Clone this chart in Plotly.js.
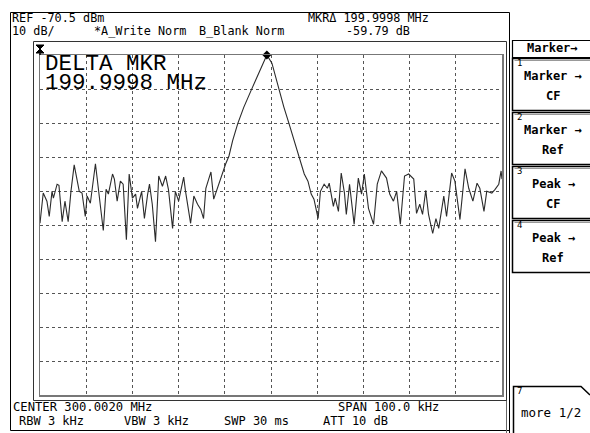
<!DOCTYPE html>
<html>
<head>
<meta charset="utf-8">
<script src="https://cdn.plot.ly/plotly-3.0.1.min.js"></script>
<style>html,body{margin:0;padding:0;background:#fff;}#chart{width:590px;height:433px;}</style>
</head>
<body>
<div id="chart"></div>
<script>
// Frequency offset from CENTER 300.0020 MHz, in kHz (span 100 kHz)
const freqOffsetKHz = [-50.0,-49.3,-48.5,-48.0,-47.4,-47.1,-46.3,-45.9,-45.2,-44.6,-43.9,-43.3,-42.6,-42.0,-41.5,-40.9,-40.2,-39.8,-39.1,-38.0,-37.4,-37.0,-36.3,-35.7,-35.2,-34.3,-33.9,-33.3,-32.6,-32.0,-31.3,-30.7,-30.0,-29.3,-28.9,-28.0,-27.4,-26.7,-26.3,-25.7,-25.0,-24.3,-23.5,-22.8,-22.2,-21.3,-20.7,-20.0,-18.9,-18.5,-18.0,-17.4,-16.7,-15.9,-15.2,-14.6,-14.1,-13.0,-12.4,-11.7,-11.3,-10.4,-9.8,-9.1,-8.3,-7.2,-5.9,-4.3,-2.8,-1.7,-0.9,0.2,1.1,1.7,2.8,3.9,5.0,6.1,7.2,8.0,8.7,9.3,10.2,10.7,11.5,12.2,12.6,13.5,13.9,14.6,15.2,15.9,16.3,17.0,18.0,18.9,19.6,20.2,21.1,22.2,23.0,23.9,25.0,25.7,26.5,27.2,28.0,28.9,29.8,30.9,31.5,32.2,32.8,33.5,34.1,35.0,35.7,36.3,37.4,38.0,39.1,39.8,40.9,42.0,42.8,43.7,44.6,45.2,46.1,46.7,47.8,48.5,49.3,49.8,50.0];
// Trace A level, dBm
const levelDBm = [-120.0,-111.1,-113.5,-118.0,-110.6,-112.6,-108.5,-108.8,-119.5,-113.5,-119.5,-110.6,-102.8,-106.7,-110.6,-111.1,-118.0,-112.0,-114.1,-102.5,-109.7,-112.9,-122.1,-110.0,-111.4,-105.5,-107.0,-113.5,-107.6,-108.5,-124.8,-105.5,-112.6,-111.4,-115.6,-110.6,-118.6,-111.4,-108.5,-114.4,-125.4,-106.1,-109.1,-106.1,-110.0,-121.5,-110.6,-113.5,-106.4,-110.6,-115.6,-120.0,-112.0,-114.4,-115.9,-118.6,-109.7,-104.9,-112.9,-110.0,-108.5,-104.6,-102.5,-100.2,-95.7,-90.7,-85.9,-80.9,-76.1,-72.9,-70.5,-72.9,-77.3,-80.9,-85.9,-90.7,-95.7,-100.8,-105.5,-107.6,-111.4,-112.9,-118.6,-110.6,-108.5,-109.7,-108.2,-115.0,-112.6,-116.5,-105.2,-111.1,-117.4,-108.5,-120.3,-106.7,-111.4,-105.5,-115.6,-120.3,-108.5,-104.6,-106.7,-111.4,-113.5,-110.6,-120.3,-106.1,-105.5,-107.0,-117.1,-114.4,-117.4,-110.3,-117.4,-123.0,-118.6,-121.5,-112.0,-118.0,-105.2,-107.6,-118.9,-104.0,-109.7,-113.5,-108.2,-109.7,-116.5,-110.6,-111.1,-110.0,-108.5,-104.6,-107.0];
// Delta marker
const markerFreqKHz = [-0.9];
const markerLevelDBm = [-70.5];
// Screen axis settings
const refLevel = -70.5, dbPerDiv = 10, spanKHz = 100;
// Header / footer / softkey texts
const headerTexts = ["REF -70.5 dBm","10 dB/","*A_Write Norm","B_Blank Norm","MKR\u0394 199.9998 MHz","-59.79 dB"];
const footerTexts = ["CENTER 300.0020 MHz","SPAN 100.0 kHz","RBW 3 kHz","VBW 3 kHz","SWP 30 ms","ATT 10 dB"];
const deltaTexts = ["DELTA MKR","199.9998 MHz"];
const softkeyTitle = "Marker\u2192";
const softkeyNums = ["1","2","3","4","7"];
const softkeyLine1 = ["Marker \u2192","Marker \u2192","Peak \u2192","Peak \u2192","more 1/2"];
const softkeyLine2 = ["CF","Ref","CF","Ref",""];

// pixel -> paper helpers (plot area: x 40..502, y 55..395)
const L = 40, R = 502, T = 55, B = 395;
const X = px => (px - L) / (R - L);
const Y = py => (B - py) / (B - T);

const mono = 'DejaVu Sans Mono';
const ann = [];
function txt(t, px, py, opts) {
  opts = opts || {};
  ann.push({xref:'paper', yref:'paper', x:X(px), y:Y(py), text:t, showarrow:false,
    xanchor:opts.xa || 'left', yanchor:'middle', borderpad:0,
    font:{family:opts.family || mono, size:opts.size || 12, color:'#000', weight: opts.weight || 'normal'}});
}
// header
txt(headerTexts[0], 11, 18.5, {size:11.8});
txt(headerTexts[1], 11, 31, {size:11.8});
txt(headerTexts[2], 93, 31, {size:11.8});
txt(headerTexts[3], 198, 31, {size:11.8});
txt(headerTexts[4], 307, 18.5, {size:11.8});
txt(headerTexts[5], 345, 31, {size:11.8});
// footer
txt(footerTexts[0], 12, 407, {size:12.2});
txt(footerTexts[1], 337, 407, {size:12});
txt(footerTexts[2], 18, 421);
txt(footerTexts[3], 123, 421);
txt(footerTexts[4], 223, 421);
txt(footerTexts[5], 322, 421);
// delta marker readout
txt(deltaTexts[0], 44, 64, {family:'Liberation Mono', size:22.5});
txt(deltaTexts[1], 44, 83, {family:'Liberation Mono', size:22.5});
// softkeys
txt(softkeyTitle, 552, 48, {xa:'center', weight:'bold', size:12});
const keyTops = [58, 112, 166, 220];
for (let i = 0; i < 4; i++) {
  const t = keyTops[i];
  txt(softkeyNums[i], 516, t + 5, {size:9});
  txt(softkeyLine1[i], 553, t + 18, {xa:'center', weight:'bold', size:12});
  txt(softkeyLine2[i], 553, t + 38, {xa:'center', weight:'bold', size:12});
}
txt(softkeyNums[4], 516, 391, {size:9});
txt(softkeyLine1[4], 551, 412, {xa:'center', size:12.5});

const shapes = [];
function rect(x0, y0, x1, y1, color, w) {
  shapes.push({type:'rect', xref:'paper', yref:'paper', x0:X(x0), x1:X(x1), y0:Y(y0), y1:Y(y1),
    line:{color:color, width:w}, fillcolor:'rgba(0,0,0,0)', layer:'above'});
}
function line(x0, y0, x1, y1, color, w) {
  shapes.push({type:'line', xref:'paper', yref:'paper', x0:X(x0), x1:X(x1), y0:Y(y0), y1:Y(y1),
    line:{color:color, width:w}, layer:'above'});
}
// screen frame
line(10.5, 12.5, 509.5, 12.5, '#000', 1);
line(10.5, 12.5, 10.5, 430.5, '#000', 1);
line(10.5, 430.5, 509.5, 430.5, '#000', 1);
line(509.5, 12.5, 509.5, 434, '#000', 1);
line(506.5, 42, 506.5, 434, '#666', 1);
rect(33.5, 41.5, 506.5, 400.5, '#333', 1);
// softkey boxes
rect(512.5, 40.5, 592, 57.5, '#000', 1.2);
for (const t of keyTops) {
  rect(512.5, t + 0.5, 592, t + 52.5, '#000', 1.5);
  line(514.5, t + 2.5, 592, t + 2.5, '#999', 1);
}
shapes.push({type:'path', xref:'paper', yref:'paper',
  path:'M '+X(513.5)+','+Y(434)+' L '+X(513.5)+','+Y(386.5)+' L '+X(581)+','+Y(386.5)+' L '+X(590)+','+Y(395),
  line:{color:'#000', width:1.5}, layer:'above'});
// reference level marker (hourglass) at top-left of graticule
shapes.push({type:'path', xref:'paper', yref:'paper',
  path:'M '+X(36)+','+Y(45)+' L '+X(44)+','+Y(45)+' L '+X(36)+','+Y(53)+' L '+X(44)+','+Y(53)+' Z',
  line:{color:'#000', width:1}, fillcolor:'#000', layer:'above'});
line(40, 45, 40, 55, '#000', 1.5);

const traces = [
  {x:freqOffsetKHz, y:levelDBm, type:'scatter', mode:'lines',
   line:{color:'#2b2b2b', width:1.1}, hoverinfo:'skip'},
  {x:markerFreqKHz, y:markerLevelDBm, type:'scatter', mode:'markers', cliponaxis:false,
   marker:{symbol:'diamond', size:7, color:'#000'}, hoverinfo:'skip'}
];

const axBase = {showticklabels:false, ticks:'', showgrid:true, gridcolor:'#555', griddash:'dot',
  gridwidth:1, zeroline:false, showline:true, mirror:true, linecolor:'#777', linewidth:1.5, fixedrange:true};

const layout = {
  width:590, height:433,
  margin:{l:L, r:590-R, t:T, b:433-B, pad:0},
  paper_bgcolor:'#fff', plot_bgcolor:'#fff',
  showlegend:false,
  xaxis:Object.assign({}, axBase, {range:[-spanKHz/2, spanKHz/2], tick0:-spanKHz/2, dtick:spanKHz/10}),
  yaxis:Object.assign({}, axBase, {range:[refLevel - 10*dbPerDiv, refLevel], tick0:refLevel, dtick:dbPerDiv}),
  annotations:ann,
  shapes:shapes
};

Plotly.newPlot('chart', traces, layout, {displayModeBar:false, staticPlot:true});
</script>
</body>
</html>
